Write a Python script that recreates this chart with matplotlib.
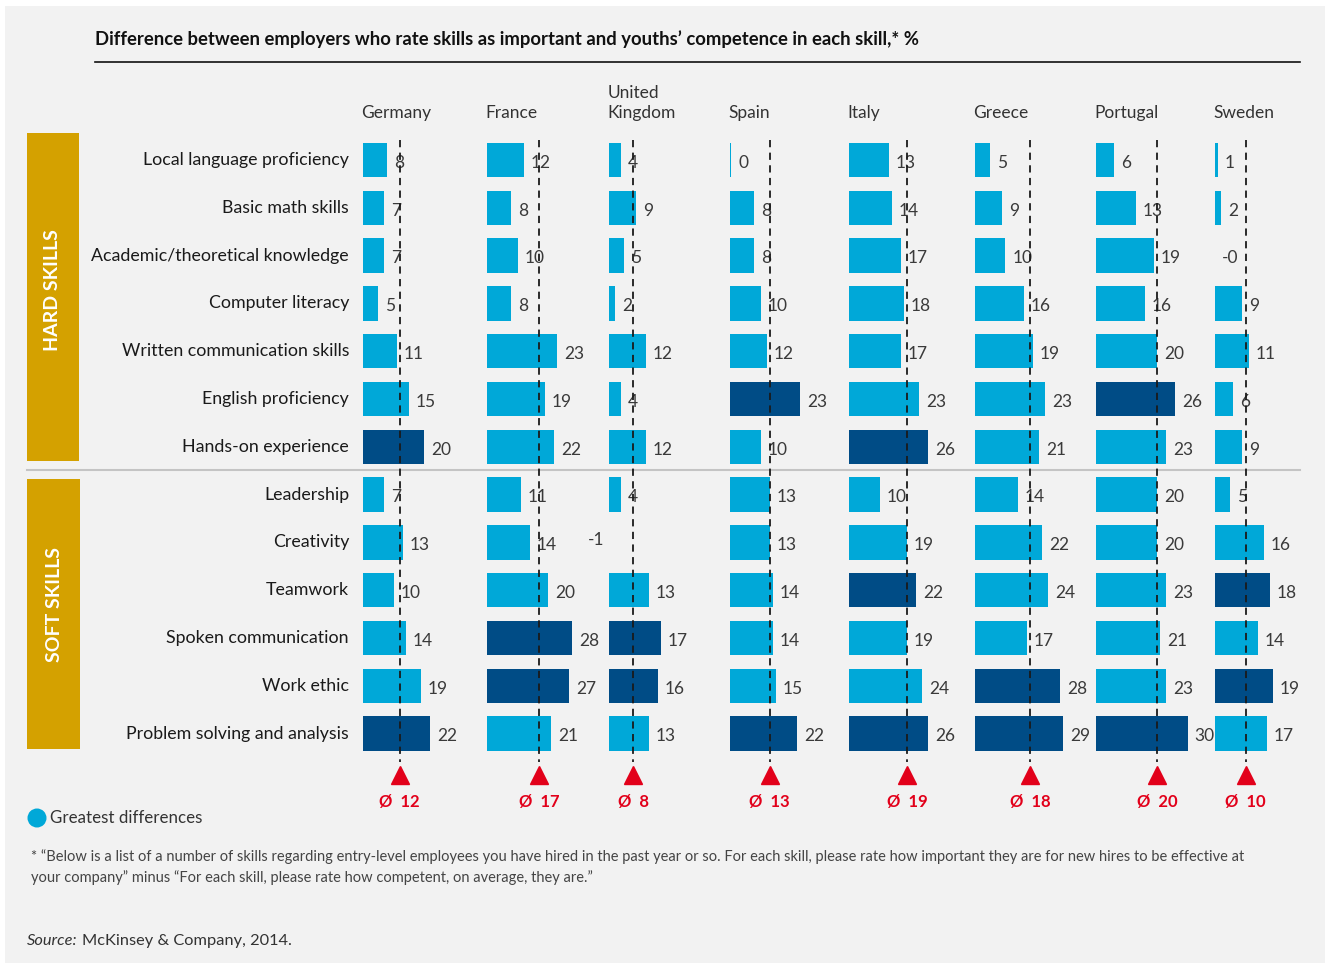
import matplotlib
matplotlib.use("Agg")
import matplotlib.pyplot as plt
from matplotlib.patches import Rectangle, Circle

# ---------------- data ----------------
countries = ["Germany", "France", "United\nKingdom", "Spain", "Italy", "Greece", "Portugal", "Sweden"]
hard_skills = ["Local language proficiency", "Basic math skills", "Academic/theoretical knowledge",
               "Computer literacy", "Written communication skills", "English proficiency",
               "Hands-on experience"]
soft_skills = ["Leadership", "Creativity", "Teamwork", "Spoken communication", "Work ethic",
               "Problem solving and analysis"]
skills = hard_skills + soft_skills

germany = [8, 7, 7, 5, 11, 15, 20, 7, 13, 10, 14, 19, 22]
france = [12, 8, 10, 8, 23, 19, 22, 11, 14, 20, 28, 27, 21]
uk = [4, 9, 5, 2, 12, 4, 12, 4, -1, 13, 17, 16, 13]
spain = [0.4, 8, 8, 10, 12, 23, 10, 13, 13, 14, 14, 15, 22]
italy = [13, 14, 17, 18, 17, 23, 26, 10, 19, 22, 19, 24, 26]
greece = [5, 9, 10, 16, 19, 23, 21, 14, 22, 24, 17, 28, 29]
portugal = [6, 13, 19, 16, 20, 26, 23, 20, 20, 23, 21, 23, 30]
sweden = [1, 2, -0.3, 9, 11, 6, 9, 5, 16, 18, 14, 19, 17]
values = [germany, france, uk, spain, italy, greece, portugal, sweden]

averages = [12, 17, 8, 13, 19, 18, 20, 10]

greatest = [
    ["Hands-on experience", "Problem solving and analysis"],
    ["Spoken communication", "Work ethic"],
    ["Spoken communication", "Work ethic"],
    ["English proficiency", "Problem solving and analysis"],
    ["Hands-on experience", "Teamwork", "Problem solving and analysis"],
    ["Work ethic", "Problem solving and analysis"],
    ["English proficiency", "Problem solving and analysis"],
    ["Teamwork", "Work ethic"],
]

# ---------------- style ----------------
LIGHT = "#00a8d8"
DARK = "#004c86"
GOLD = "#d4a100"
RED = "#e2001a"
BG = "#f2f2f2"
TXT = "#1a1a1a"
NUM = "#3a3a3a"
FONT = ["Lato", "DejaVu Sans"]
plt.rcParams["font.family"] = FONT

W, H = 1325, 965
fig = plt.figure(figsize=(W / 100, H / 100), dpi=100)
fig.patch.set_facecolor("white")
bg = fig.add_axes([0, 0, 1, 1])
bg.set_xlim(0, W)
bg.set_ylim(H, 0)
bg.axis("off")
bg.add_patch(Rectangle((5, 6), W - 5, 957, facecolor=BG, edgecolor="none"))

# title
bg.text(95, 39, "Difference between employers who rate skills as important and youths\u2019 competence in each skill,* %",
        fontsize=13.3, fontweight="bold", color="#111111", va="center", ha="left")
bg.plot([95, 1300], [62, 62], color="#111111", lw=1.2)

# row geometry
ROW0, PITCH = 160, 47.8
row_y = [ROW0 + PITCH * i for i in range(len(skills))]

for y, s in zip(row_y, skills):
    bg.text(349, y, s, fontsize=12.8, color=TXT, ha="right", va="center")

# side boxes
bg.add_patch(Rectangle((27, 133), 52, 328, facecolor=GOLD, edgecolor="none"))
bg.add_patch(Rectangle((27, 479), 53, 270, facecolor=GOLD, edgecolor="none"))
bg.text(53, 290, "HARD SKILLS", rotation=90, color="white", fontsize=14, fontweight="bold",
        ha="center", va="center")
bg.text(54, 604, "SOFT SKILLS", rotation=90, color="white", fontsize=14, fontweight="bold",
        ha="center", va="center")
bg.plot([27, 1300], [470, 470], color="#c4c4c4", lw=1.5)

# legend
bg.add_patch(Circle((37, 818), 9.5, facecolor=LIGHT, edgecolor="none"))
bg.text(50, 818, "Greatest differences", fontsize=12.2, color="#333333", ha="left", va="center")

# footnote and source
bg.text(31, 857, "* \u201cBelow is a list of a number of skills regarding entry-level employees you have hired in the past year or so. "
        "For each skill, please rate how important they are for new hires to be effective at",
        fontsize=10.55, color="#444444", ha="left", va="center")
bg.text(31, 878, "your company\u201d minus \u201cFor each skill, please rate how competent, on average, they are.\u201d",
        fontsize=10.55, color="#444444", ha="left", va="center")
bg.text(27, 941, "Source:", fontsize=11.8, style="italic", color="#333333", ha="left", va="center")
bg.text(82, 941, "McKinsey & Company, 2014.", fontsize=11.8, color="#333333", ha="left", va="center")

# country panels
PX = 3.05            # pixels per percentage point
TOP, BOT = 130, 815
PANEL_W = 120
starts = [363, 487, 609, 730, 849, 975, 1096, 1215]
for left, c, vals, avg, hl in zip(starts, countries, values, averages, greatest):
    ax = fig.add_axes([left / W, 1 - BOT / H, PANEL_W / W, (BOT - TOP) / H])
    ax.set_xlim(0, PANEL_W / PX)
    ax.set_ylim((BOT - ROW0) / PITCH, (TOP - ROW0) / PITCH)
    ax.axis("off")
    ax.patch.set_alpha(0)
    rows = list(range(len(skills)))
    colors = [DARK if s in hl else LIGHT for s in skills]
    ax.barh(rows, vals, height=0.72, color=colors, zorder=2)
    for r, v in zip(rows, vals):
        label = f"{v:.0f}"
        if v < -0.5:
            ax.text(-1.5, r - 0.05, label, fontsize=12.5, color=NUM, ha="right", va="center", clip_on=False)
        else:
            ax.text(max(v, 0) + 2.3, r + 0.06, label, fontsize=12.5, color=NUM, ha="left", va="center",
                    clip_on=False)
    # average line
    ax.plot([avg, avg], [(140 - ROW0) / PITCH, (762 - ROW0) / PITCH], color="#1a1a1a", lw=1.3,
            dashes=(4, 3), zorder=3)
    ax.plot([avg], [(775 - ROW0) / PITCH], marker="^", ms=13.5, color=RED, mec=RED, clip_on=False, zorder=4)
    ax.text(avg, (802 - ROW0) / PITCH, f"\u00d8  {avg}", fontsize=12, fontweight="bold", color=RED,
            ha="center", va="center", clip_on=False)
    # country name
    ax.text(-0.6, (121 - ROW0) / PITCH, c, fontsize=12.5, color="#333333", ha="left", va="bottom",
            linespacing=1.3, clip_on=False)

fig.savefig("out.png", dpi=100, facecolor=fig.get_facecolor())
